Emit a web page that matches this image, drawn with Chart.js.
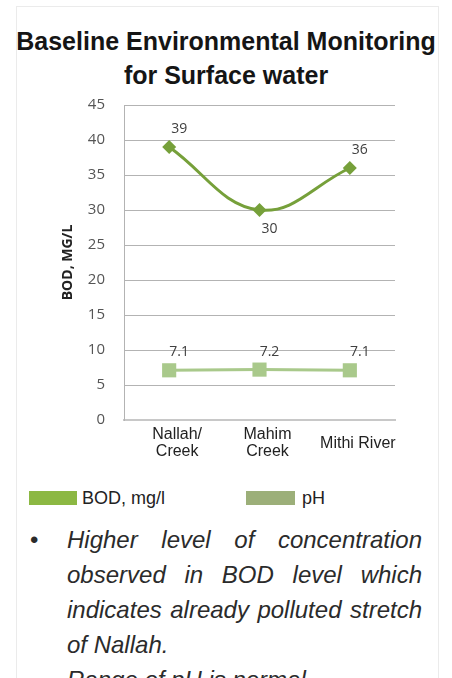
<!DOCTYPE html>
<html>
<head>
<meta charset="utf-8">
<script src="https://cdn.jsdelivr.net/npm/chart.js@4.4.1/dist/chart.umd.min.js"></script>
<style>
html,body{margin:0;padding:0;background:#fff;width:452px;height:678px;overflow:hidden;}
#card{position:absolute;left:16px;top:6px;width:423px;height:720px;border:1px solid #ebebeb;box-sizing:border-box;}
#title{position:absolute;left:0;top:24px;width:452px;text-align:center;font:bold 25px "Liberation Sans",Arial,sans-serif;line-height:34px;color:#151515;margin:0;}
#chartWrap{position:absolute;left:0;top:90px;width:452px;height:385px;}
.leg{position:absolute;top:489px;display:flex;align-items:center;height:18px;}
.leg .box{width:48px;height:14px;}
.leg .txt{font:18px "Liberation Sans",Arial,sans-serif;color:#222;margin-left:5px;white-space:nowrap;}
.note{position:absolute;left:67px;width:355px;font:italic 24px "Liberation Sans",Arial,sans-serif;line-height:35px;text-align:justify;color:#2b2b2b;margin:0;}
.bullet{position:absolute;left:30px;font:24px "Liberation Sans",Arial,sans-serif;line-height:35px;color:#2b2b2b;}
</style>
</head>
<body>
<div id="card"></div>
<h1 id="title">Baseline Environmental Monitoring<br>for Surface water</h1>
<div id="chartWrap"><canvas id="c"></canvas></div>
<div id="legend"></div>
<div class="bullet" style="top:522px">•</div>
<p class="note" style="top:522px">Higher level of concentration observed in BOD level which indicates already polluted stretch of Nallah.</p>
<p class="note" style="top:662px">Range of pH is normal.</p>
<script>
// ---- data ----
const categories = [["Nallah/", "Creek"], ["Mahim", "Creek"], "Mithi River"];
const bodValues = [39, 30, 36];
const phValues = [7.1, 7.2, 7.1];
const seriesNames = ["BOD, mg/l", "pH"];
const yTicks = [0, 5, 10, 15, 20, 25, 30, 35, 40, 45];
const yAxisTitle = "BOD, MG/L";

// ---- styles ----
const lineColors = ["#76a03a", "#a9c98b"];
const legendColors = ["#8cb843", "#9caf79"];

const valueLabels = {
  id: 'valueLabels',
  afterDatasetsDraw(chart) {
    const ctx = chart.ctx;
    ctx.save();
    ctx.font = '14px "Open Sans", sans-serif';
    ctx.fillStyle = '#404040';
    ctx.textAlign = 'center';
    ctx.textBaseline = 'middle';
    chart.data.datasets.forEach((ds, di) => {
      const meta = chart.getDatasetMeta(di);
      meta.data.forEach((pt, i) => {
        const v = ds.data[i];
        const prev = ds.data[i - 1], next = ds.data[i + 1];
        const isMin = prev !== undefined && next !== undefined && v < prev && v < next;
        const y = isMin ? pt.y + 19 : pt.y - 18;
        ctx.fillText(String(v), pt.x + 10, y);
      });
    });
    ctx.restore();
  }
};

const chart = new Chart(document.getElementById('c'), {
  type: 'line',
  data: {
    labels: categories,
    datasets: [
      {
        label: seriesNames[0],
        data: bodValues,
        borderColor: lineColors[0],
        backgroundColor: lineColors[0],
        borderWidth: 3,
        tension: 0.4,
        pointStyle: 'rectRot',
        pointRadius: 7,
        pointHoverRadius: 7,
        pointBorderWidth: 0
      },
      {
        label: seriesNames[1],
        data: phValues,
        borderColor: lineColors[1],
        backgroundColor: lineColors[1],
        borderWidth: 3,
        tension: 0,
        pointStyle: 'rect',
        pointRadius: 10,
        pointHoverRadius: 10,
        pointBorderWidth: 0
      }
    ]
  },
  options: {
    responsive: true,
    maintainAspectRatio: false,
    animation: false,
    events: [],
    layout: { padding: { left: 0, right: 57, top: 15, bottom: 0 } },
    plugins: {
      legend: { display: false },
      tooltip: { enabled: false },
      title: { display: false }
    },
    scales: {
      x: {
        offset: true,
        grid: { display: false, drawTicks: false },
        border: { display: true, color: '#c8c8c8', width: 2 },
        ticks: {
          font: { family: '"Liberation Sans", Arial, sans-serif', size: 16, lineHeight: 1.06 },
          color: '#222',
          padding: 15,
          labelOffset: 8,
          crossAlign: 'center',
          maxRotation: 0,
          autoSkip: false
        },
        afterFit(scale) { scale.height = 55; scale.paddingLeft = 0; scale.paddingRight = 0; }
      },
      y: {
        min: 0,
        max: 45,
        afterBuildTicks(scale) { scale.ticks = yTicks.map(v => ({ value: v })); },
        grid: { color: (c) => c.tick && c.tick.value === 0 ? 'rgba(0,0,0,0)' : '#b3b3b3', lineWidth: 1, drawTicks: false },
        border: { display: true, color: '#b3b3b3', width: 1 },
        ticks: {
          font: { family: '"Open Sans", sans-serif', size: 15 },
          color: '#555',
          padding: 19
        },
        title: {
          display: true,
          text: yAxisTitle,
          font: { family: '"Open Sans", sans-serif', size: 14, weight: 'bold' },
          color: '#222',
          padding: { top: 60, bottom: 0 }
        },
        afterFit(scale) { scale.width = 124; scale.paddingTop = 0; scale.paddingBottom = 0; }
      }
    }
  },
  plugins: [valueLabels]
});

// HTML legend built from datasets
const legendEl = document.getElementById('legend');
const legendX = [29, 246];
chart.data.datasets.forEach((ds, i) => {
  const item = document.createElement('div');
  item.className = 'leg';
  item.style.left = legendX[i] + 'px';
  const box = document.createElement('span');
  box.className = 'box';
  box.style.background = legendColors[i];
  if (i === 1) box.style.width = '49px';
  const t = document.createElement('span');
  t.className = 'txt';
  t.style.marginLeft = i === 1 ? '7px' : '5px';
  t.textContent = ds.label;
  item.appendChild(box);
  item.appendChild(t);
  legendEl.appendChild(item);
});
</script>
</body>
</html>
